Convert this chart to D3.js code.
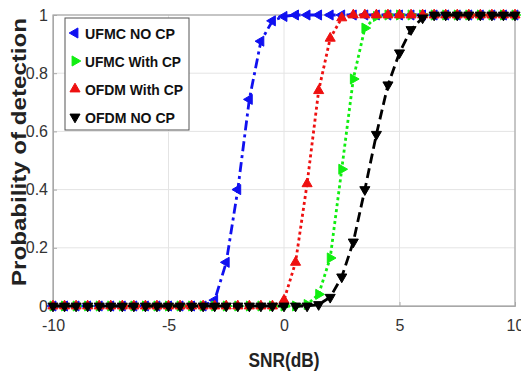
<!DOCTYPE html>
<html><head><meta charset="utf-8">
<script src="https://cdn.jsdelivr.net/npm/d3@7"></script>
<style>body{margin:0;background:#fff;}svg{display:block;font-family:"Liberation Sans",Arial,sans-serif;}</style>
</head><body><div id="chart"></div>
<script>
const snr = d3.range(-10, 10.001, 0.5).map(v => +v.toFixed(1));
const seriesNames = ["UFMC NO CP", "UFMC With CP", "OFDM With CP", "OFDM NO CP"];
// values keyed by SNR where they differ from 0 (before the rise) or 1 (after)
const ufmcNoCp = { "-3": 0.02, "-2.5": 0.15, "-2": 0.40, "-1.5": 0.71, "-1": 0.91, "-0.5": 0.98, "0": 0.995 };
const ufmcWithCp = { "1": 0.005, "1.5": 0.04, "2": 0.165, "2.5": 0.47, "3": 0.78, "3.5": 0.955, "4": 0.995 };
const ofdmWithCp = { "0": 0.02, "0.5": 0.15, "1": 0.42, "1.5": 0.74, "2": 0.92, "2.5": 0.99 };
const ofdmNoCp = { "1.5": 0.005, "2": 0.03, "2.5": 0.10, "3": 0.22, "3.5": 0.40, "4": 0.59, "4.5": 0.76, "5": 0.87, "5.5": 0.95, "6": 0.99 };
const riseStart = [-3, 1, 0, 1.5];
const xTicks = [-10, -5, 0, 5, 10];
const yTicks = [0, 0.2, 0.4, 0.6, 0.8, 1];
const yTickLabels = ["0", "0.2", "0.4", "0.6", "0.8", "1"];

function build(map, start) {
  return snr.map(s => {
    const k = String(s);
    if (k in map) return { x: s, y: map[k] };
    return { x: s, y: s < start ? 0 : 1 };
  });
}
const data = [build(ufmcNoCp, riseStart[0]), build(ufmcWithCp, riseStart[1]), build(ofdmWithCp, riseStart[2]), build(ofdmNoCp, riseStart[3])];
const colors = ["#1010f0", "#10ee10", "#ee1010", "#000000"];
const dashes = ["10,4,3,4", "3,3", "3,3", "10,5"];
const rot = [-90, 90, 0, 180]; // left, right, up, down

const W = 521, H = 374;
const m = { l: 53, r: 6, t: 15, b: 68 };
const svg = d3.select("#chart").append("svg").attr("width", W).attr("height", H);
const x = d3.scaleLinear().domain([-10, 10]).range([m.l, W - m.r]);
const y = d3.scaleLinear().domain([0, 1]).range([H - m.b, m.t]);

// grid
svg.append("g").selectAll("line.gx").data(xTicks).join("line")
  .attr("x1", d => x(d)).attr("x2", d => x(d)).attr("y1", y(0)).attr("y2", y(1))
  .attr("stroke", "#e4e4e4").attr("stroke-width", 1);
svg.append("g").selectAll("line.gy").data(yTicks).join("line")
  .attr("y1", d => y(d)).attr("y2", d => y(d)).attr("x1", x(-10)).attr("x2", x(10))
  .attr("stroke", "#e4e4e4").attr("stroke-width", 1);

// box
svg.append("rect").attr("x", x(-10)).attr("y", y(1)).attr("width", x(10) - x(-10)).attr("height", y(0) - y(1))
  .attr("fill", "none").attr("stroke", "#a8a8a8").attr("stroke-width", 1.2);

const xAxis = svg.append("g").attr("transform", `translate(0,${y(0)})`)
  .call(d3.axisBottom(x).tickValues(xTicks).tickSize(-4).tickPadding(14).tickFormat(d => String(d)));
const yAxis = svg.append("g").attr("transform", `translate(${x(-10)},0)`)
  .call(d3.axisLeft(y).tickValues(yTicks).tickSize(-4).tickPadding(5).tickFormat((d, i) => yTickLabels[i]));
[xAxis, yAxis].forEach(g => {
  g.select(".domain").attr("stroke", "#a8a8a8");
  g.selectAll(".tick line").attr("stroke", "#a8a8a8");
  g.selectAll(".tick text").attr("font-size", 16).attr("fill", "#333").attr("font-family", "Liberation Sans, Arial, sans-serif");
});

const line = d3.line().x(d => x(d.x)).y(d => y(d.y));
const tri = d3.symbol().type(d3.symbolTriangle).size(44);
data.forEach((ser, i) => {
  svg.append("path").datum(ser).attr("d", line).attr("fill", "none")
    .attr("stroke", colors[i]).attr("stroke-width", 2.8).attr("stroke-dasharray", dashes[i]);
  svg.append("g").selectAll("path").data(ser).join("path")
    .attr("d", tri).attr("transform", d => `translate(${x(d.x)},${y(d.y)}) rotate(${rot[i]})`)
    .attr("fill", colors[i]).attr("stroke", colors[i]).attr("stroke-width", 1);
});

// legend
const lg = svg.append("g");
lg.append("rect").attr("x", 65).attr("y", 18).attr("width", 124).attr("height", 112)
  .attr("fill", "#fff").attr("stroke", "#555").attr("stroke-width", 1);
seriesNames.forEach((n, i) => {
  const cy = 33 + i * 28;
  lg.append("path").attr("d", tri).attr("transform", `translate(75,${cy}) rotate(${rot[i]})`)
    .attr("fill", colors[i]).attr("stroke", colors[i]);
  lg.append("text").attr("x", 85).attr("y", cy + 6).text(n)
    .attr("font-size", 15).attr("font-weight", "bold").attr("fill", "#111")
    .attr("textLength", [90, 96, 98, 90][i]).attr("lengthAdjust", "spacingAndGlyphs");
});

// axis labels
svg.append("text").attr("x", x(0)).attr("y", 367).attr("text-anchor", "middle")
  .attr("font-size", 20).attr("font-weight", "bold").attr("fill", "#222")
  .attr("textLength", 71).attr("lengthAdjust", "spacingAndGlyphs").text("SNR(dB)");
svg.append("text").attr("transform", `translate(26,152) rotate(-90)`).attr("text-anchor", "middle")
  .attr("font-size", 21).attr("font-weight", "bold").attr("fill", "#222")
  .attr("textLength", 268).attr("lengthAdjust", "spacingAndGlyphs").text("Probability of detection");
</script></body></html>
